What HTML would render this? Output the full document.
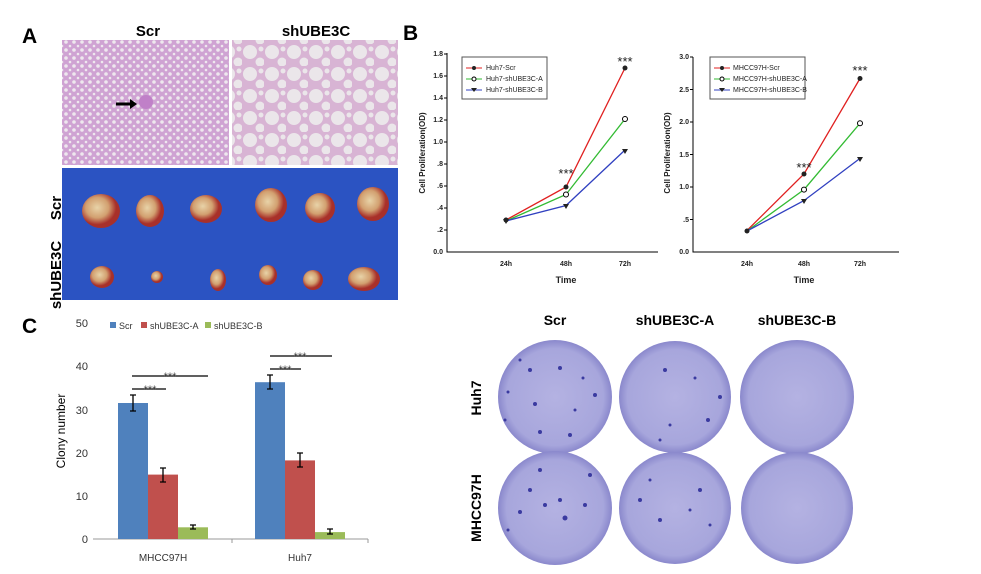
<!DOCTYPE html><html><head><meta charset="utf-8"><style>body{margin:0;background:#fff}svg{display:block}text{font-family:"Liberation Sans",Arial,sans-serif}</style></head><body>
<svg width="981" height="574" viewBox="0 0 981 574" xmlns="http://www.w3.org/2000/svg">
<defs>
<pattern id="h1" width="8" height="8" patternUnits="userSpaceOnUse"><rect width="8" height="8" fill="#cfa3d3"/><circle cx="2" cy="2" r="1.8" fill="#eee8ee"/><circle cx="6" cy="6" r="1.3" fill="#eee8ee"/></pattern>
<pattern id="h2" width="22" height="22" patternUnits="userSpaceOnUse"><rect width="22" height="22" fill="#d8b4d4"/><circle cx="8" cy="8" r="7" fill="#ebe6ea"/><circle cx="18" cy="18" r="4.5" fill="#ebe6ea"/><circle cx="19" cy="5" r="2.5" fill="#ebe6ea"/></pattern>
<radialGradient id="tum" cx="40%" cy="40%"><stop offset="0" stop-color="#e8d3a8"/><stop offset=".6" stop-color="#d2a070"/><stop offset="1" stop-color="#a8302a"/></radialGradient>
<radialGradient id="pl"><stop offset="0" stop-color="#b4b2e2"/><stop offset=".85" stop-color="#a7a6dc"/><stop offset="1" stop-color="#8a88cc"/></radialGradient>
</defs>
<text x="22" y="43" font-size="21" font-weight="bold">A</text>
<text x="148" y="36" font-size="15" font-weight="bold" text-anchor="middle">Scr</text>
<text x="316" y="36" font-size="15" font-weight="bold" text-anchor="middle">shUBE3C</text>
<rect x="62" y="40" width="167" height="125" fill="url(#h1)"/>
<rect x="232" y="40" width="166" height="125" fill="url(#h2)"/>
<circle cx="146" cy="102" r="7" fill="#c080c8"/>
<path d="M116 104h16" stroke="#000" stroke-width="3"/><path d="M130 99l7 5-7 5z" fill="#000"/>
<rect x="62" y="168" width="336" height="132" fill="#2b53c2"/>
<g fill="url(#tum)">
<ellipse cx="101" cy="211" rx="19" ry="17"/><ellipse cx="150" cy="211" rx="14" ry="16"/><ellipse cx="206" cy="209" rx="16" ry="14"/>
<ellipse cx="271" cy="205" rx="16" ry="17"/><ellipse cx="320" cy="208" rx="15" ry="15"/><ellipse cx="373" cy="204" rx="16" ry="17"/>
<ellipse cx="102" cy="277" rx="12" ry="11"/><ellipse cx="157" cy="277" rx="6" ry="6"/><ellipse cx="218" cy="280" rx="8" ry="11"/>
<ellipse cx="268" cy="275" rx="9" ry="10"/><ellipse cx="313" cy="280" rx="10" ry="10"/><ellipse cx="364" cy="279" rx="16" ry="12"/>
</g>
<text transform="translate(61,208) rotate(-90)" font-size="15" font-weight="bold" text-anchor="middle">Scr</text>
<text transform="translate(61,275) rotate(-90)" font-size="15" font-weight="bold" text-anchor="middle">shUBE3C</text>
<text x="403" y="40" font-size="21" font-weight="bold">B</text>
<g font-size="7" font-weight="bold" fill="#222">
<path d="M447 53V252H658" stroke="#000" fill="none"/>
<g text-anchor="end">
<text x="443" y="254">0.0</text><text x="443" y="232">.2</text><text x="443" y="210">.4</text><text x="443" y="188">.6</text><text x="443" y="166">.8</text><text x="443" y="144">1.0</text><text x="443" y="122">1.2</text><text x="443" y="100">1.4</text><text x="443" y="78">1.6</text><text x="443" y="56">1.8</text></g>
<g stroke="#000"><path d="M447 230h-3M447 208h-3M447 186h-3M447 164h-3M447 142h-3M447 120h-3M447 98h-3M447 76h-3M447 54h-3"/></g>
<text x="506" y="266" text-anchor="middle">24h</text><text x="566" y="266" text-anchor="middle">48h</text><text x="625" y="266" text-anchor="middle">72h</text>
<text x="566" y="283" text-anchor="middle" font-size="9">Time</text>
<text transform="translate(425,153) rotate(-90)" text-anchor="middle" font-size="8">Cell Proliferation(OD)</text>
<polyline points="506,220 566,187 625,68" stroke="#e02020" stroke-width="1.3" fill="none"/>
<polyline points="506,221 566,194.5 625,119" stroke="#33bb33" stroke-width="1.3" fill="none"/>
<polyline points="506,221 566,205.5 625,150" stroke="#3040c0" stroke-width="1.3" fill="none"/>
<circle cx="506" cy="220" r="2.5"/><circle cx="566" cy="187" r="2.5"/><circle cx="625" cy="68" r="2.5"/>
<circle cx="566" cy="194.5" r="2.5" fill="#fff" stroke="#000"/><circle cx="625" cy="119" r="2.5" fill="#fff" stroke="#000"/>
<path d="M503 219l3 5 3-5zM563 204l3 5 3-5zM622 149l3 5 3-5z"/>
<text x="566" y="178" text-anchor="middle" font-size="13" font-weight="normal">***</text>
<text x="625" y="66" text-anchor="middle" font-size="13" font-weight="normal">***</text>
<rect x="462" y="57" width="85" height="42" fill="#fff" stroke="#555"/>
<path d="M466 68h16" stroke="#e02020"/><circle cx="474" cy="68" r="2"/><text x="486" y="70" font-weight="normal">Huh7-Scr</text>
<path d="M466 79h16" stroke="#33bb33"/><circle cx="474" cy="79" r="2" fill="#fff" stroke="#000"/><text x="486" y="81" font-weight="normal">Huh7-shUBE3C-A</text>
<path d="M466 90h16" stroke="#3040c0"/><path d="M471 88l3 4 3-4z"/><text x="486" y="92" font-weight="normal">Huh7-shUBE3C-B</text>
<path d="M693 57V252H899" stroke="#000" fill="none"/>
<g text-anchor="end">
<text x="689" y="254">0.0</text><text x="689" y="222">.5</text><text x="689" y="189">1.0</text><text x="689" y="157">1.5</text><text x="689" y="124">2.0</text><text x="689" y="92">2.5</text><text x="689" y="59">3.0</text></g>
<g stroke="#000"><path d="M693 219.5h-3M693 187h-3M693 154.5h-3M693 122h-3M693 89.5h-3M693 57h-3"/></g>
<text x="747" y="266" text-anchor="middle">24h</text><text x="804" y="266" text-anchor="middle">48h</text><text x="860" y="266" text-anchor="middle">72h</text>
<text x="804" y="283" text-anchor="middle" font-size="9">Time</text>
<text transform="translate(670,153) rotate(-90)" text-anchor="middle" font-size="8">Cell Proliferation(OD)</text>
<polyline points="747,230.5 804,174 860,78.5" stroke="#e02020" stroke-width="1.3" fill="none"/>
<polyline points="747,231 804,189.6 860,123.3" stroke="#33bb33" stroke-width="1.3" fill="none"/>
<polyline points="747,231 804,200.6 860,158.4" stroke="#3040c0" stroke-width="1.3" fill="none"/>
<circle cx="747" cy="231" r="2.5"/><circle cx="804" cy="174" r="2.5"/><circle cx="860" cy="78.5" r="2.5"/>
<circle cx="804" cy="189.6" r="2.5" fill="#fff" stroke="#000"/><circle cx="860" cy="123.3" r="2.5" fill="#fff" stroke="#000"/>
<path d="M801 199l3 5 3-5zM857 157l3 5 3-5z"/>
<text x="804" y="172" text-anchor="middle" font-size="13" font-weight="normal">***</text>
<text x="860" y="75" text-anchor="middle" font-size="13" font-weight="normal">***</text>
<rect x="710" y="57" width="95" height="42" fill="#fff" stroke="#555"/>
<path d="M714 68h16" stroke="#e02020"/><circle cx="722" cy="68" r="2"/><text x="733" y="70" font-weight="normal">MHCC97H-Scr</text>
<path d="M714 79h16" stroke="#33bb33"/><circle cx="722" cy="79" r="2" fill="#fff" stroke="#000"/><text x="733" y="81" font-weight="normal">MHCC97H-shUBE3C-A</text>
<path d="M714 90h16" stroke="#3040c0"/><path d="M719 88l3 4 3-4z"/><text x="733" y="92" font-weight="normal">MHCC97H-shUBE3C-B</text>
</g>
<text x="22" y="333" font-size="21" font-weight="bold">C</text>
<path d="M96 539H368M232 539v4M368 539v4M96 539h-3" stroke="#999" fill="none"/>
<g font-size="11" fill="#333" text-anchor="end"><text x="88" y="543">0</text><text x="88" y="500">10</text><text x="88" y="457">20</text><text x="88" y="414">30</text><text x="88" y="370">40</text><text x="88" y="327">50</text></g>
<text transform="translate(65,431) rotate(-90)" font-family="Liberation Serif,serif" font-size="12" text-anchor="middle">Clony number</text>
<text x="163" y="561" font-size="10" text-anchor="middle" fill="#333">MHCC97H</text>
<text x="300" y="561" font-size="10" text-anchor="middle" fill="#333">Huh7</text>
<rect x="118" y="403" width="30" height="136" fill="#4f81bd"/><rect x="148" y="474.6" width="30" height="64.4" fill="#c0504d"/><rect x="178" y="527.3" width="30" height="11.7" fill="#9bbb59"/>
<rect x="255" y="382.2" width="30" height="156.8" fill="#4f81bd"/><rect x="285" y="460.4" width="30" height="78.6" fill="#c0504d"/><rect x="315" y="532.1" width="30" height="6.9" fill="#9bbb59"/>
<g stroke="#000" stroke-width="1.3" fill="none">
<path d="M133 395v16M130 395h6M130 411h6M163 468v14M160 468h6M160 482h6M193 525v4M190 525h6M190 529h6"/>
<path d="M270 375v14M267 375h6M267 389h6M300 453v14M297 453h6M297 467h6M330 529v5M327 529h6M327 534h6"/>
<path d="M132 376h76M132 389h34M270 356h62M270 369h31"/>
</g>
<g font-size="11" fill="#444" text-anchor="middle"><text x="170" y="380">***</text><text x="150" y="393">***</text><text x="300" y="360">***</text><text x="285" y="373">***</text></g>
<rect x="110" y="322" width="6" height="6" fill="#4f81bd"/><text x="119" y="329" font-size="9" fill="#333">Scr</text>
<rect x="141" y="322" width="6" height="6" fill="#c0504d"/><text x="150" y="329" font-size="9" fill="#333">shUBE3C-A</text>
<rect x="205" y="322" width="6" height="6" fill="#9bbb59"/><text x="214" y="329" font-size="9" fill="#333">shUBE3C-B</text>
<g font-size="14" font-weight="bold" text-anchor="middle">
<text x="555" y="325">Scr</text><text x="675" y="325">shUBE3C-A</text><text x="797" y="325">shUBE3C-B</text>
<text transform="translate(481,398) rotate(-90)">Huh7</text>
<text transform="translate(481,508) rotate(-90)">MHCC97H</text></g>
<g fill="url(#pl)">
<circle cx="555" cy="397" r="57"/><circle cx="675" cy="397" r="56"/><circle cx="797" cy="397" r="57"/>
<circle cx="555" cy="508" r="57"/><circle cx="675" cy="508" r="56"/><circle cx="797" cy="508" r="56"/>
</g>
<g fill="#3a3aa0">
<circle cx="530" cy="370" r="2"/><circle cx="560" cy="368" r="2"/><circle cx="583" cy="378" r="1.5"/><circle cx="508" cy="392" r="1.5"/><circle cx="535" cy="404" r="2"/><circle cx="575" cy="410" r="1.5"/><circle cx="595" cy="395" r="2"/><circle cx="540" cy="432" r="2"/><circle cx="570" cy="435" r="2"/><circle cx="520" cy="360" r="1.5"/><circle cx="505" cy="420" r="1.5"/>
<circle cx="665" cy="370" r="2"/><circle cx="695" cy="378" r="1.5"/><circle cx="708" cy="420" r="2"/><circle cx="720" cy="397" r="2"/><circle cx="670" cy="425" r="1.5"/><circle cx="660" cy="440" r="1.5"/>
<circle cx="530" cy="490" r="2"/><circle cx="545" cy="505" r="2"/><circle cx="560" cy="500" r="2"/><circle cx="565" cy="518" r="2.5"/><circle cx="520" cy="512" r="2"/><circle cx="585" cy="505" r="2"/><circle cx="540" cy="470" r="2"/><circle cx="590" cy="475" r="2"/><circle cx="508" cy="530" r="1.5"/>
<circle cx="640" cy="500" r="2"/><circle cx="660" cy="520" r="2"/><circle cx="690" cy="510" r="1.5"/><circle cx="700" cy="490" r="2"/><circle cx="650" cy="480" r="1.5"/><circle cx="710" cy="525" r="1.5"/>
</g>
</svg>
</body></html>
